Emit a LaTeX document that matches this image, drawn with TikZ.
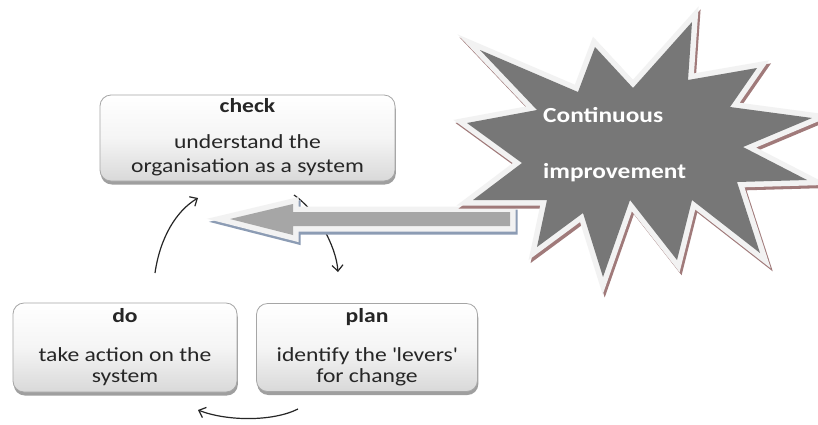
\documentclass[tikz,border=0pt]{standalone}
\usepackage{fontspec}
\setmainfont[FakeStretch=1.18]{Carlito}
\usetikzlibrary{shadows,arrows.meta}
\definecolor{txt}{HTML}{262626}
\definecolor{stargray}{HTML}{777777}
\definecolor{arrgray}{HTML}{A6A6A6}
\definecolor{starshadow}{HTML}{A07A7A}
\definecolor{arrshadow}{HTML}{8C9CB4}
\definecolor{rim}{HTML}{F2F2F2}
\tikzset{
  pdcabox/.style={rounded corners=11pt, draw=gray!70, line width=0.8pt,
    top color=white, bottom color=gray!30, middle color=gray!8,
    drop shadow={shadow xshift=0.8pt, shadow yshift=-3.5pt, opacity=0.5, fill=black!75},
    inner sep=0pt},
  titletext/.style={font=\fontsize{20}{24}\selectfont\bfseries, text=txt, anchor=base, inner sep=0pt},
  bodytext/.style={font=\fontsize{20}{24}\selectfont, text=txt, anchor=base, inner sep=0pt},
  startext/.style={font=\fontsize{21.5}{25}\selectfont\bfseries, text=white, anchor=base west, inner sep=0pt},
  cyc/.style={line width=1.2pt, black!85, -{Straight Barb[length=6pt,width=11pt]}},
}
\begin{document}
\begin{tikzpicture}[x=1pt,y=-1pt]
\useasboundingbox[fill=white] (0,0) rectangle (818,424);

% boxes
\node[pdcabox, minimum width=295pt, minimum height=86pt] (check) at (247.5,138) {};
\node[pdcabox, minimum width=224pt, minimum height=89pt] (do) at (125,347.5) {};
\node[pdcabox, minimum width=221pt, minimum height=88pt] (plan) at (367,347.5) {};

\node[titletext] (checkt) at (247.5,112) {check};
\node[bodytext] (checkb1) at (247.5,148) {understand the};
\node[bodytext] (checkb2) at (247.5,172) {organisation as a system};

\node[titletext] (dot) at (125,322) {do};
\node[bodytext] (dob1) at (125,361) {take action on the};
\node[bodytext] (dob2) at (125,382) {system};

\node[titletext] (plant) at (367,322) {plan};
\node[bodytext] (planb1) at (367,361) {identify the \textquotesingle levers\textquotesingle};
\node[bodytext] (planb2) at (367,382) {for change};

% cycle arrows
\coordinate (a1s) at (155,273);
\coordinate (a1e) at (198,198);
\coordinate (a2s) at (294,195);
\coordinate (a2e) at (338,272);
\coordinate (a3s) at (298,409);
\coordinate (a3e) at (198,410);
\draw[cyc] (a1s) .. controls (160,238) and (176,211) .. (a1e);
\draw[cyc] (a2s) .. controls (316,210) and (336,245) .. (a2e);
\draw[cyc] (a3s) .. controls (272,422) and (226,421) .. (a3e);

% big arrow
\def\bigarrow{(230,219) -- (293,204) -- (293,212) -- (510,212) -- (510,226) -- (293,226) -- (293,235) -- cycle}
\draw[arrshadow, line width=11pt, line join=miter, shift={(2pt,-3pt)}] \bigarrow;
\draw[rim, line width=11pt, line join=miter] \bigarrow;
\fill[arrgray] \bigarrow;

% star
\def\starpath{(480,50) -- (578,92) -- (595,47) -- (633,88) -- (692,22) -- (688,80) -- (757,68) -- (730,107) -- (812,118) -- (743,147) -- (807,180) -- (737,182) -- (760,253) -- (692,200) -- (677,260) -- (630,200) -- (603,277) -- (583,213) -- (537,247) -- (547,200) -- (473,200) -- (522,163) -- (467,123) -- (537,110) -- cycle}
\draw[starshadow, line width=11pt, line join=miter, miter limit=12, shift={(2pt,-3pt)}] \starpath;
\draw[rim, line width=11pt, line join=miter, miter limit=12] \starpath;
\fill[stargray] \starpath;
\node[startext] (st1) at (543,122) {Continuous};
\node[startext] (st2) at (543,178) {improvement};
\end{tikzpicture}
\end{document}
